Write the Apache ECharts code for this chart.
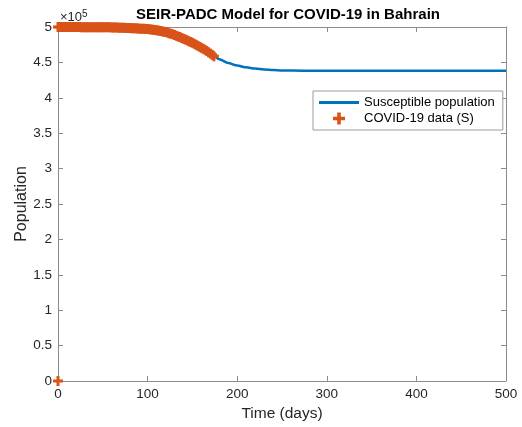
<!DOCTYPE html>
<html>
<head>
<meta charset="utf-8">
<script src="https://cdn.jsdelivr.net/npm/echarts@6/dist/echarts.min.js"></script>
<style>
  html, body { margin: 0; padding: 0; background: #fff; }
  #chart { width: 522px; height: 427px; }
</style>
</head>
<body>
<div id="chart"></div>
<script>
// values in units of 10^5 people
const modelDays = [0, 25, 50, 75, 100, 110, 120, 130, 140, 150, 160, 170, 180, 190, 200, 210, 220, 230, 240, 250, 275, 300, 350, 400, 450, 500];
const modelS = [5.000, 4.999, 4.996, 4.988, 4.970, 4.955, 4.930, 4.890, 4.840, 4.780, 4.710, 4.630, 4.545, 4.490, 4.455, 4.430, 4.413, 4.400, 4.392, 4.387, 4.383, 4.382, 4.382, 4.382, 4.382, 4.382];

const dataDays = [0,
  0, 2, 4, 6, 8, 10, 12, 14, 16, 18, 20, 22, 24, 26, 28, 30, 32, 34, 36, 38,
  40, 42, 44, 46, 48, 50, 52, 54, 56, 58, 60, 62, 64, 66, 68, 70, 72, 74, 76, 78,
  80, 82, 84, 86, 88, 90, 92, 94, 96, 98, 100, 102, 104, 106, 108, 110, 112, 114, 116, 118,
  120, 122, 124, 126, 128, 130, 132, 134, 136, 138, 140, 142, 144, 146, 148, 150, 152, 154, 156, 158,
  160, 162, 164, 166, 168, 170, 172, 174];
const dataS = [0,
  5.000, 5.000, 5.000, 5.000, 5.000, 5.000, 5.000, 4.999, 4.999, 4.999, 4.999, 4.999, 4.999, 4.998, 4.998, 4.998, 4.998, 4.998, 4.998, 4.998,
  4.998, 4.997, 4.997, 4.997, 4.996, 4.996, 4.996, 4.995, 4.995, 4.995, 4.994, 4.994, 4.993, 4.992, 4.991, 4.990, 4.989, 4.988, 4.987, 4.986,
  4.985, 4.984, 4.983, 4.982, 4.980, 4.979, 4.977, 4.976, 4.974, 4.972, 4.970, 4.968, 4.965, 4.962, 4.958, 4.954, 4.950, 4.945, 4.940, 4.934,
  4.928, 4.921, 4.913, 4.905, 4.896, 4.887, 4.877, 4.867, 4.857, 4.846, 4.835, 4.824, 4.812, 4.800, 4.788, 4.776, 4.763, 4.750, 4.736, 4.722,
  4.707, 4.693, 4.678, 4.661, 4.643, 4.625, 4.607, 4.588];

const seriesNames = ['Susceptible population', 'COVID-19 data (S)'];
const titleText = 'SEIR-PADC Model for COVID-19 in Bahrain';

const plusPath = 'path://M3.5,0H6.5V3.5H10V6.5H6.5V10H3.5V6.5H0V3.5H3.5Z';
const font = 'Liberation Sans, Arial, sans-serif';
const axisCol = '#262626';
const boxCol = '#8c8c8c';

var chart = echarts.init(document.getElementById('chart'));

// top and right axes only draw the box and inner ticks
var boxAxis = function (pos, type) {
    return {
        type: 'value',
        position: pos,
        min: 0,
        max: type === 'x' ? 500 : 5,
        interval: type === 'x' ? 100 : 0.5,
        axisLine: { show: true, onZero: false, lineStyle: { color: boxCol, width: 1 } },
        axisTick: { show: true, inside: true, length: 5, lineStyle: { color: boxCol } },
        axisLabel: { show: false },
        splitLine: { show: false }
    };
};

var option = {
    backgroundColor: '#fff',
    animation: false,
    textStyle: { fontFamily: font },
    title: {
        text: titleText,
        left: 283,
        textAlign: 'center',
        top: 2,
        textStyle: { fontSize: 15, fontWeight: 'bold', color: '#000', fontFamily: font }
    },
    graphic: [{
        type: 'text',
        left: 60,
        top: 9,
        style: {
            text: '×10{s|5}',
            rich: { s: { fontSize: 10, verticalAlign: 'top', padding: [0, 0, 6, 0], fill: axisCol } },
            fontSize: 13,
            fontFamily: font,
            fill: axisCol
        }
    }],
    legend: {
        orient: 'vertical',
        left: 313,
        top: 91,
        padding: [5, 8, 5, 6],
        itemGap: 3,
        itemWidth: 40,
        itemHeight: 12,
        borderColor: '#9a9a9a',
        borderWidth: 1,
        backgroundColor: '#fff',
        textStyle: { fontSize: 13, color: '#000', fontFamily: font },
        data: [
            { name: seriesNames[0], icon: 'path://M0,0H40V3H0Z', itemStyle: { color: '#0072BD' } },
            { name: seriesNames[1], icon: plusPath, itemStyle: { color: '#D95319' } }
        ]
    },
    grid: { left: 58, right: 16, top: 27, bottom: 46 },
    xAxis: [{
        type: 'value',
        position: 'bottom',
        min: 0,
        max: 500,
        interval: 100,
        name: 'Time (days)',
        nameLocation: 'middle',
        nameGap: 25,
        nameTextStyle: { fontSize: 15.5, color: axisCol, fontFamily: font },
        axisLine: { show: true, onZero: false, lineStyle: { color: boxCol, width: 1 } },
        axisTick: { show: true, inside: true, length: 5, lineStyle: { color: boxCol } },
        axisLabel: { fontSize: 13.5, color: axisCol, margin: 6, fontFamily: font },
        splitLine: { show: false }
    }, boxAxis('top', 'x')],
    yAxis: [{
        type: 'value',
        position: 'left',
        min: 0,
        max: 5,
        interval: 0.5,
        name: 'Population',
        nameLocation: 'middle',
        nameGap: 28,
        nameMoveOverlap: false,
        nameTextStyle: { fontSize: 16, color: axisCol, fontFamily: font },
        axisLine: { show: true, onZero: false, lineStyle: { color: boxCol, width: 1 } },
        axisTick: { show: true, inside: true, length: 5, lineStyle: { color: boxCol } },
        axisLabel: { fontSize: 13.5, color: axisCol, margin: 6, fontFamily: font },
        splitLine: { show: false }
    }, boxAxis('right', 'y')],
    series: [
        {
            name: seriesNames[0],
            type: 'line',
            xAxisIndex: 0,
            yAxisIndex: 0,
            data: modelDays.map((d, i) => [d, modelS[i]]),
            smooth: 0.3,
            smoothMonotone: 'x',
            symbol: 'none',
            lineStyle: { color: '#0072BD', width: 2.5 },
            itemStyle: { color: '#0072BD' },
            z: 2
        },
        {
            name: seriesNames[1],
            type: 'scatter',
            xAxisIndex: 0,
            yAxisIndex: 0,
            data: dataDays.map((d, i) => [d, dataS[i]]),
            symbol: plusPath,
            symbolSize: 10,
            clip: false,
            itemStyle: { color: '#D95319', opacity: 1 },
            z: 3
        }
    ]
};

chart.setOption(option);
</script>
</body>
</html>
